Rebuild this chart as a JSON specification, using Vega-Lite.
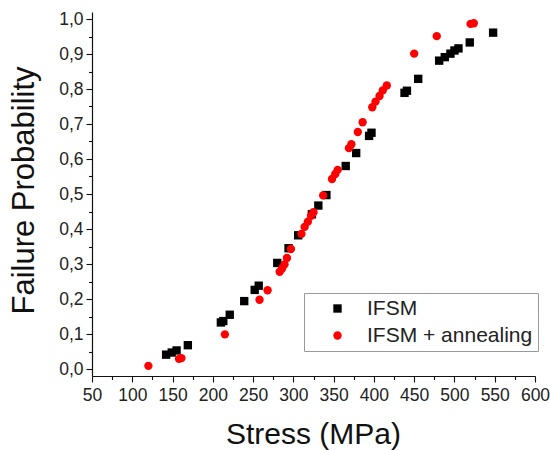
{
  "$schema": "https://vega.github.io/schema/vega-lite/v6.json",
  "width": 443,
  "height": 364,
  "autosize": {"type": "none"},
  "padding": {"left": 92, "top": 12, "right": 15, "bottom": 74},
  "background": "white",
  "config": {
    "view": {"stroke": null},
    "font": "Liberation Sans",
    "axis": {
      "domainColor": "#111",
      "domainWidth": 1.2,
      "tickColor": "#111",
      "tickWidth": 1.1,
      "labelColor": "#222",
      "labelFont": "Liberation Sans",
      "labelFontSize": 17.5,
      "titleFont": "Liberation Sans",
      "titleFontWeight": "normal",
      "titleColor": "#111",
      "titleFontSize": 30,
      "grid": false,
      "labelOverlap": false,
      "labelFlush": false
    }
  },
  "data": {
    "values": [
      {"stress": 142, "prob": 0.041, "series": "IFSM"},
      {"stress": 149, "prob": 0.047, "series": "IFSM"},
      {"stress": 155, "prob": 0.053, "series": "IFSM"},
      {"stress": 169, "prob": 0.068, "series": "IFSM"},
      {"stress": 210, "prob": 0.133, "series": "IFSM"},
      {"stress": 213, "prob": 0.137, "series": "IFSM"},
      {"stress": 221, "prob": 0.155, "series": "IFSM"},
      {"stress": 239, "prob": 0.194, "series": "IFSM"},
      {"stress": 252, "prob": 0.226, "series": "IFSM"},
      {"stress": 257, "prob": 0.238, "series": "IFSM"},
      {"stress": 280, "prob": 0.303, "series": "IFSM"},
      {"stress": 294, "prob": 0.345, "series": "IFSM"},
      {"stress": 306, "prob": 0.382, "series": "IFSM"},
      {"stress": 323, "prob": 0.442, "series": "IFSM"},
      {"stress": 331, "prob": 0.467, "series": "IFSM"},
      {"stress": 341, "prob": 0.497, "series": "IFSM"},
      {"stress": 365, "prob": 0.58, "series": "IFSM"},
      {"stress": 378, "prob": 0.617, "series": "IFSM"},
      {"stress": 394, "prob": 0.666, "series": "IFSM"},
      {"stress": 397, "prob": 0.675, "series": "IFSM"},
      {"stress": 438, "prob": 0.789, "series": "IFSM"},
      {"stress": 441, "prob": 0.795, "series": "IFSM"},
      {"stress": 455, "prob": 0.829, "series": "IFSM"},
      {"stress": 481, "prob": 0.881, "series": "IFSM"},
      {"stress": 488, "prob": 0.891, "series": "IFSM"},
      {"stress": 495, "prob": 0.901, "series": "IFSM"},
      {"stress": 500, "prob": 0.91, "series": "IFSM"},
      {"stress": 505, "prob": 0.916, "series": "IFSM"},
      {"stress": 519, "prob": 0.933, "series": "IFSM"},
      {"stress": 548, "prob": 0.961, "series": "IFSM"},
      {"stress": 120, "prob": 0.009, "series": "IFSM + annealing"},
      {"stress": 158, "prob": 0.029, "series": "IFSM + annealing"},
      {"stress": 161, "prob": 0.031, "series": "IFSM + annealing"},
      {"stress": 215, "prob": 0.099, "series": "IFSM + annealing"},
      {"stress": 258, "prob": 0.198, "series": "IFSM + annealing"},
      {"stress": 268, "prob": 0.225, "series": "IFSM + annealing"},
      {"stress": 283, "prob": 0.278, "series": "IFSM + annealing"},
      {"stress": 286, "prob": 0.287, "series": "IFSM + annealing"},
      {"stress": 289, "prob": 0.299, "series": "IFSM + annealing"},
      {"stress": 292, "prob": 0.317, "series": "IFSM + annealing"},
      {"stress": 297, "prob": 0.343, "series": "IFSM + annealing"},
      {"stress": 310, "prob": 0.386, "series": "IFSM + annealing"},
      {"stress": 314, "prob": 0.406, "series": "IFSM + annealing"},
      {"stress": 318, "prob": 0.421, "series": "IFSM + annealing"},
      {"stress": 322, "prob": 0.438, "series": "IFSM + annealing"},
      {"stress": 325, "prob": 0.448, "series": "IFSM + annealing"},
      {"stress": 337, "prob": 0.496, "series": "IFSM + annealing"},
      {"stress": 348, "prob": 0.543, "series": "IFSM + annealing"},
      {"stress": 352, "prob": 0.557, "series": "IFSM + annealing"},
      {"stress": 355, "prob": 0.569, "series": "IFSM + annealing"},
      {"stress": 369, "prob": 0.631, "series": "IFSM + annealing"},
      {"stress": 372, "prob": 0.642, "series": "IFSM + annealing"},
      {"stress": 380, "prob": 0.677, "series": "IFSM + annealing"},
      {"stress": 386, "prob": 0.705, "series": "IFSM + annealing"},
      {"stress": 398, "prob": 0.748, "series": "IFSM + annealing"},
      {"stress": 402, "prob": 0.764, "series": "IFSM + annealing"},
      {"stress": 407, "prob": 0.78, "series": "IFSM + annealing"},
      {"stress": 411, "prob": 0.796, "series": "IFSM + annealing"},
      {"stress": 416, "prob": 0.81, "series": "IFSM + annealing"},
      {"stress": 450, "prob": 0.901, "series": "IFSM + annealing"},
      {"stress": 478, "prob": 0.951, "series": "IFSM + annealing"},
      {"stress": 520, "prob": 0.986, "series": "IFSM + annealing"},
      {"stress": 524, "prob": 0.988, "series": "IFSM + annealing"}
    ]
  },
  "mark": {"type": "point", "filled": true, "opacity": 1, "size": 70},
  "encoding": {
    "x": {
      "field": "stress",
      "type": "quantitative",
      "scale": {"domain": [50, 600], "nice": false, "zero": false},
      "axis": {
        "title": "Stress (MPa)",
        "values": [50, 75, 100, 125, 150, 175, 200, 225, 250, 275, 300, 325, 350, 375, 400, 425, 450, 475, 500, 525, 550, 575, 600],
        "labelExpr": "datum.value % 50 == 0 ? format(datum.value, 'd') : ''",
        "tickSize": {"condition": {"test": "datum.value % 50 == 0", "value": 6}, "value": 3.5},
        "labelPadding": 4,
        "titleX": 221,
        "titleY": 67,
        "titleAlign": "center",
        "titleBaseline": "alphabetic"
      }
    },
    "y": {
      "field": "prob",
      "type": "quantitative",
      "scale": {"domain": [-0.02, 1.02], "nice": false, "zero": false},
      "axis": {
        "title": "Failure Probability",
        "values": [0, 0.05, 0.1, 0.15, 0.2, 0.25, 0.3, 0.35, 0.4, 0.45, 0.5, 0.55, 0.6, 0.65, 0.7, 0.75, 0.8, 0.85, 0.9, 0.95, 1.0],
        "labelExpr": "abs(datum.value * 10 - round(datum.value * 10)) < 0.001 ? replace(format(datum.value, '.1f'), '.', ',') : ''",
        "tickSize": {"condition": {"test": "abs(datum.value * 10 - round(datum.value * 10)) < 0.001", "value": 6}, "value": 3.5},
        "labelPadding": 3,
        "titleX": -59,
        "titleY": 178,
        "titleAngle": -90,
        "titleAlign": "center",
        "titleBaseline": "alphabetic",
        "titleFontSize": 31
      }
    },
    "color": {
      "field": "series",
      "type": "nominal",
      "scale": {"domain": ["IFSM", "IFSM + annealing"], "range": ["#000000", "#ff0000"]},
      "legend": {
        "title": null,
        "orient": "none",
        "legendX": 212,
        "legendY": 281,
        "strokeColor": "#999",
        "fillColor": "white",
        "padding": 5,
        "labelFont": "Liberation Sans",
        "labelFontSize": 21,
        "labelColor": "#222",
        "labelLimit": 400,
        "symbolSize": 70,
        "symbolOffset": 18,
        "labelOffset": 19,
        "rowPadding": 5
      }
    },
    "shape": {
      "field": "series",
      "type": "nominal",
      "scale": {"domain": ["IFSM", "IFSM + annealing"], "range": ["square", "circle"]}
    }
  }
}
